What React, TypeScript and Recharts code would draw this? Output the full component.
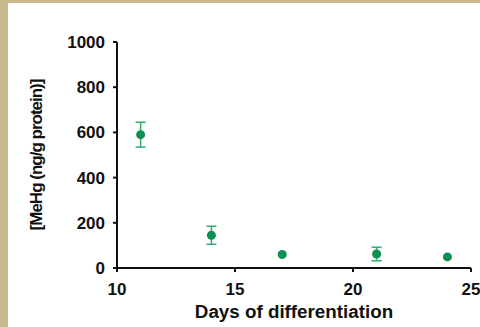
import React from "react";
import {
  ScatterChart,
  Scatter,
  XAxis,
  YAxis,
  ZAxis,
  ErrorBar,
} from "recharts";

const days = [11, 14, 17, 21, 24];
const mehg = [590, 145, 60, 62, 49];
const sem = [55, 40, 0, 30, 0];

const xTicks = [10, 15, 20, 25];
const yTicks = [0, 200, 400, 600, 800, 1000];

const points = days.map((d, i) => ({ day: d, value: mehg[i], err: sem[i] }));

const tickStyle = {
  fill: "#111",
  fontSize: 17,
  fontWeight: 700,
  fontFamily: "'Liberation Sans', Arial, sans-serif",
};

export default function App() {
  return (
    <div
      style={{
        position: "fixed",
        left: 0,
        top: 0,
        width: 480,
        height: 327,
        background: "#c9ba8d",
      }}
    >
      <div
        style={{
          position: "absolute",
          left: 8,
          top: 3,
          width: 472,
          height: 324,
          background: "#fff",
        }}
      >
        <ScatterChart
          width={472}
          height={324}
          margin={{ top: 39, right: 9, left: 0, bottom: 0 }}
        >
          <XAxis
            type="number"
            dataKey="day"
            domain={[10, 25]}
            ticks={xTicks}
            tickSize={4}
            tickMargin={11}
            height={59}
            stroke="#111"
            strokeWidth={2}
            tick={tickStyle}
            label={{
              value: "Days of differentiation",
              position: "insideBottom",
              offset: 9,
              style: { ...tickStyle, fontSize: 18.8 },
            }}
          />
          <YAxis
            type="number"
            dataKey="value"
            domain={[0, 1000]}
            ticks={yTicks}
            tickSize={4}
            tickMargin={8}
            width={109}
            stroke="#111"
            strokeWidth={2}
            tick={tickStyle}
            label={{
              value: "[MeHg (ng/g protein)]",
              angle: -90,
              position: "insideLeft",
              offset: 40,
              dx: -12,
              style: {
                ...tickStyle,
                fontSize: 17,
                letterSpacing: -1,
                textAnchor: "middle",
              },
            }}
          />
          <ZAxis range={[95, 95]} />
          <Scatter
            data={points}
            fill="#0d9152"
            shape="circle"
            isAnimationActive={false}
          >
            <ErrorBar
              dataKey="err"
              direction="y"
              width={5}
              stroke="#2eae73"
              strokeWidth={1.5}
              isAnimationActive={false}
            />
          </Scatter>
        </ScatterChart>
      </div>
    </div>
  );
}
